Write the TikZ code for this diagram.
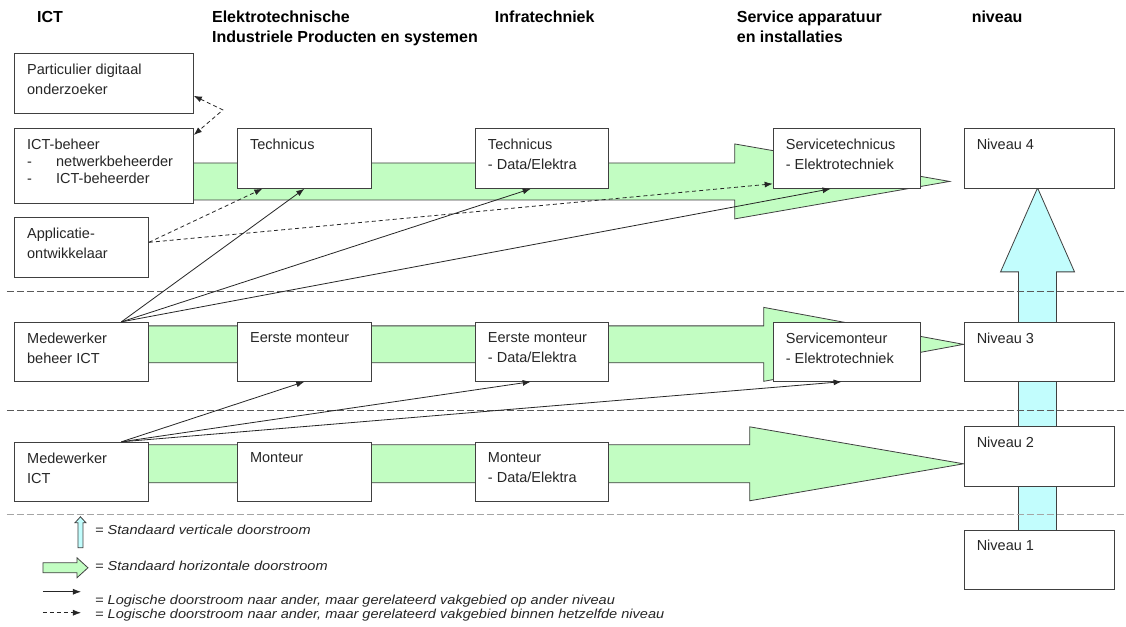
\documentclass[tikz,border=0pt]{standalone}
\usepackage{fontspec}
\setmainfont{Liberation Sans}
\newfontfamily\legendfont[FakeStretch=1.12]{Liberation Sans}
\usetikzlibrary{arrows.meta}

\definecolor{flowgreen}{RGB}{194,253,194}
\definecolor{flowcyan}{RGB}{194,253,253}
\definecolor{edgegray}{RGB}{64,64,64}
\definecolor{sepgray}{RGB}{90,90,90}
\definecolor{lightsep}{RGB}{165,165,165}

\tikzset{
  box/.style={draw=edgegray, fill=white, line width=0.9pt, anchor=north west, inner sep=0pt},
  boxtxt/.style={anchor=north west, align=left, inner sep=0pt, xshift=13pt, yshift=-10.5pt,
    font=\fontsize{14.5}{20}\selectfont, text=black!85},
  head/.style={anchor=north west, align=left, inner sep=0pt, font=\fontsize{16}{20}\selectfont\bfseries},
  legtxt/.style={anchor=west, inner sep=0pt, font=\legendfont\fontsize{13}{14}\selectfont\itshape, text=black!85},
  hflow/.style={draw=edgegray, fill=flowgreen, line width=0.8pt},
  vflow/.style={draw=edgegray, fill=flowcyan, line width=0.8pt},
  sep/.style={dash pattern=on 7pt off 3pt, line width=1pt},
  link/.style={->, draw=black!85, line width=0.8pt},
  samelevel/.style={link, dash pattern=on 4pt off 3pt},
}

\begin{document}
\begin{tikzpicture}[>={Latex[length=8pt,width=6pt]}, x=1pt, y=-1pt]

% white background
\fill[white] (0,0) rectangle (1126,627);

% column headers
\node[head] (hict) at (37,11) {ICT};
\node[head] (helek) at (212,11) {Elektrotechnische\\Industriele Producten en systemen};
\node[head] (hinfra) at (495,11) {Infratechniek};
\node[head] (hserv) at (737,11) {Service apparatuur\\en installaties};
\node[head] (hniv) at (972,11) {niveau};

% horizontal flow (green)
\draw[hflow] (150,163) -- (735,163) -- (735,144) -- (950,181.5) -- (735,219) -- (735,200) -- (150,200) -- cycle;
\draw[hflow] (100,326) -- (764,326) -- (764,307.5) -- (964,344.5) -- (764,381.5) -- (764,363) -- (100,363) -- cycle;
\draw[hflow] (100,445) -- (750,445) -- (750,427) -- (964,464) -- (750,501) -- (750,483) -- (100,483) -- cycle;

% vertical flow (cyan)
\draw[vflow] (1019,540) -- (1019,272) -- (1001,272) -- (1038,188) -- (1075,272) -- (1057,272) -- (1057,540) -- cycle;

% level separators
\draw[sep, sepgray] (7,292) -- (1126,292);
\draw[sep, sepgray] (7,411) -- (1126,411);
\draw[sep, lightsep] (7,515) -- (1126,515);

% boxes, ICT column
\node[box, minimum width=179pt, minimum height=60pt, label={[boxtxt]north west:{Particulier digitaal\\onderzoeker}}] (part) at (14,53) {};
\node[box, minimum width=179pt, minimum height=75pt, label={[boxtxt, font=\fontsize{14.5}{17}\selectfont]north west:{ICT-beheer\\\makebox[29pt][l]{-}netwerkbeheerder\\\makebox[29pt][l]{-}ICT-beheerder}}] (ictb) at (14,128) {};
\node[box, minimum width=134pt, minimum height=60pt, label={[boxtxt]north west:{Applicatie-\\ontwikkelaar}}] (app) at (14,217) {};
\node[box, minimum width=134pt, minimum height=59pt, label={[boxtxt]north west:{Medewerker\\beheer ICT}}] (mbict) at (14,322) {};
\node[box, minimum width=134pt, minimum height=59pt, label={[boxtxt]north west:{Medewerker\\ICT}}] (mict) at (14,442) {};

% boxes, level 4
\node[box, minimum width=134pt, minimum height=60pt, label={[boxtxt]north west:{Technicus}}] (tech) at (237,128) {};
\node[box, minimum width=133pt, minimum height=60pt, label={[boxtxt]north west:{Technicus\\- Data/Elektra}}] (techde) at (475,128) {};
\node[box, minimum width=147pt, minimum height=60pt, label={[boxtxt]north west:{Servicetechnicus\\- Elektrotechniek}}] (stech) at (773,128) {};
\node[box, minimum width=150pt, minimum height=60pt, label={[boxtxt]north west:{Niveau 4}}] (niv4) at (964,128) {};

% boxes, level 3
\node[box, minimum width=134pt, minimum height=59pt, label={[boxtxt]north west:{Eerste monteur}}] (em) at (237,322) {};
\node[box, minimum width=133pt, minimum height=59pt, label={[boxtxt]north west:{Eerste monteur\\- Data/Elektra}}] (emde) at (475,322) {};
\node[box, minimum width=147pt, minimum height=59pt, label={[boxtxt]north west:{Servicemonteur\\- Elektrotechniek}}] (smon) at (773,322) {};
\node[box, minimum width=150pt, minimum height=59pt, label={[boxtxt]north west:{Niveau 3}}] (niv3) at (964,322) {};

% boxes, level 2 and 1
\node[box, minimum width=134pt, minimum height=59pt, label={[boxtxt]north west:{Monteur}}] (mon) at (237,442) {};
\node[box, minimum width=133pt, minimum height=59pt, label={[boxtxt]north west:{Monteur\\- Data/Elektra}}] (monde) at (475,442) {};
\node[box, minimum width=150pt, minimum height=60pt, label={[boxtxt]north west:{Niveau 2}}] (niv2) at (964,426) {};
\node[box, minimum width=150pt, minimum height=59pt, label={[boxtxt]north west:{Niveau 1}}] (niv1) at (964,530) {};

% flow within the same level (dashed)
\coordinate (bend) at (223,110);
\draw[samelevel, <->] ([yshift=18pt]part.south east) -- (bend) -- ([yshift=-7pt]ictb.north east);
\draw[samelevel] ([yshift=5pt]app.east) -- ([xshift=-42pt]tech.south);
\draw[samelevel] ([yshift=5pt]app.east) -- ([yshift=5pt]stech.south west);

% flow to another level (solid)
\draw[link] ([xshift=40pt]mbict.north) -- (tech.south);
\draw[link] ([xshift=40pt]mbict.north) -- ([xshift=-11pt]techde.south);
\draw[link] ([xshift=40pt]mbict.north) -- ([xshift=-16pt]stech.south);
\draw[link] ([xshift=40pt]mict.north) -- (em.south);
\draw[link] ([xshift=40pt]mict.north) -- ([xshift=-11pt]emde.south);
\draw[link] ([xshift=40pt]mict.north) -- ([xshift=-5pt]smon.south);

% legend
\node[legtxt] (lg1) at (95,530) {= Standaard verticale doorstroom};
\node[legtxt] (lg2) at (95,566) {= Standaard horizontale doorstroom};
\node[legtxt] (lg3) at (95,601) {= Logische doorstroom naar ander, maar gerelateerd vakgebied op ander niveau};
\node[legtxt] (lg4) at (95,615) {= Logische doorstroom naar ander, maar gerelateerd vakgebied binnen hetzelfde niveau};
\draw[vflow] (78,548) -- (78,523) -- (75,523) -- (80.5,517) -- (86,523) -- (83,523) -- (83,548) -- cycle;
\draw[hflow] (43,563) -- (77,563) -- (77,558) -- (88,568) -- (77,578) -- (77,573) -- (43,573) -- cycle;
\draw[link] ([xshift=-52pt,yshift=9pt]lg3.west) -- ([xshift=-14pt,yshift=9pt]lg3.west);
\draw[samelevel] ([xshift=-52pt,yshift=2pt]lg4.west) -- ([xshift=-14pt,yshift=2pt]lg4.west);

\end{tikzpicture}
\end{document}
